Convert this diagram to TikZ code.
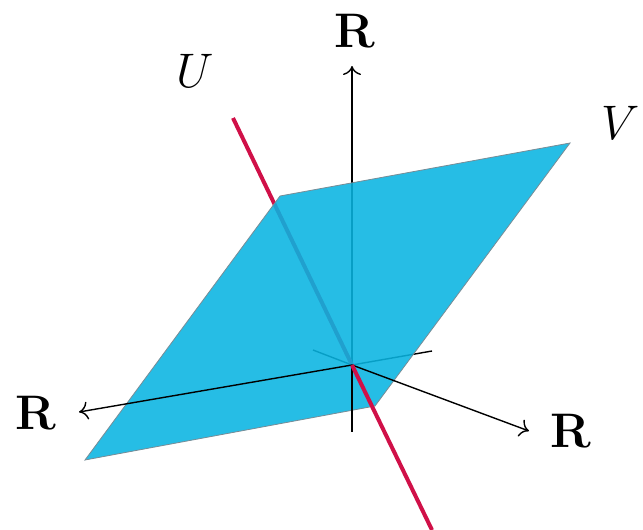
\documentclass[tikz,border=0pt]{standalone}
\usetikzlibrary{arrows.meta}
\definecolor{planecol}{RGB}{8,180,225}
\definecolor{linered}{RGB}{208,16,72}
\definecolor{edgecol}{RGB}{120,140,150}
\begin{document}
\begin{tikzpicture}[x=1pt,y=-1pt,
  axis/.style={line width=1.4pt,black},
  axisarrow/.style={axis,-{Computer Modern Rightarrow[length=9pt,width=18pt,line width=1.4pt]}},
  uline/.style={line width=4pt,linered},
  lbl/.style={inner sep=0pt,font=\Huge,scale=1.95}]
\useasboundingbox (0,0) rectangle (643,530);
% key points
\coordinate (O) at (352,365);
\coordinate (vtop) at (352,66);
\coordinate (vbot) at (352,432);
\coordinate (lback) at (432,351);
\coordinate (ltip) at (79,412);
\coordinate (rback) at (313,350);
\coordinate (rtip) at (529,431);
\coordinate (utop) at (233,118);
\coordinate (ubot) at (432,530);
\coordinate (p1) at (280,196);
\coordinate (p2) at (570,143);
\coordinate (p3) at (375,406);
\coordinate (p4) at (85,460);
% back parts
\draw[axisarrow] (O) -- (vtop);
\draw[axis] (O) -- (lback);
\draw[axis] (O) -- (rback);
\draw[uline] (O) -- (utop);
% plane
\fill[planecol,fill opacity=0.88] (p1) -- (p2) -- (p3) -- (p4) -- cycle;
\draw[edgecol,line width=0.8pt] (p1) -- (p2) -- (p3) -- (p4) -- cycle;
% front parts
\draw[axisarrow] (O) -- (ltip);
\draw[axisarrow] (O) -- (rtip);
\draw[axis] (O) -- (vbot);
\draw[uline] (O) -- (ubot);
% labels
\node[lbl] (Rtop) at (355,31) {$\mathbf{R}$};
\node[lbl] (Rleft) at (36,413) {$\mathbf{R}$};
\node[lbl] (Rright) at (571,431) {$\mathbf{R}$};
\node[lbl] (U) at (195,71) {$U$};
\node[lbl] (V) at (621,123) {$V$};
\end{tikzpicture}
\end{document}
